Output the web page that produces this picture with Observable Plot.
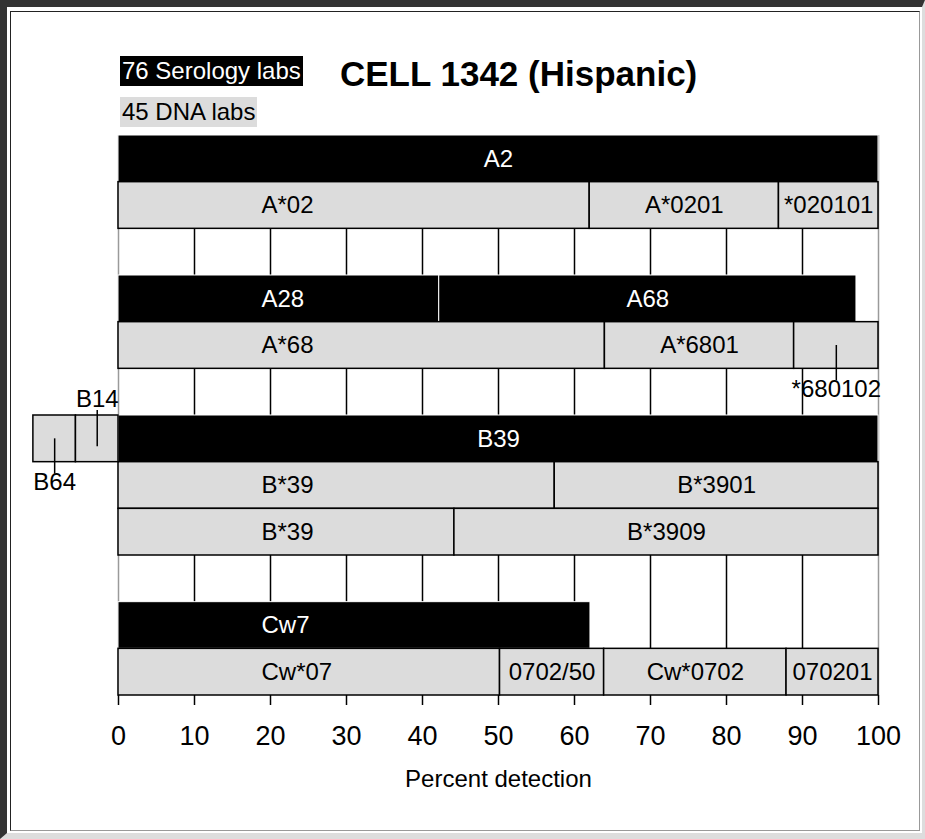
<!DOCTYPE html>
<html>
<head>
<meta charset="utf-8">
<script src="https://cdn.jsdelivr.net/npm/d3@7"></script>
<script src="https://cdn.jsdelivr.net/npm/@observablehq/plot@0.6"></script>
<style>
  html, body { margin: 0; padding: 0; background: #fff; }
  #page { position: relative; width: 925px; height: 839px; overflow: hidden; font-family: "Liberation Sans", Arial, sans-serif; }
  #outer { position: absolute; left: 0; top: 0; width: 925px; height: 839px; box-sizing: border-box;
           border-top: 7px solid #333; border-left: 7px solid #333; border-right: 3px solid #ddd; border-bottom: 6px solid #ddd; }
  #inner { position: absolute; left: 10px; top: 11px; width: 910px; height: 820px; box-sizing: border-box;
           border: 1px solid #222; border-right-color: #999; border-bottom-color: #999; }
  .leg { position: absolute; left: 120px; height: 30px; line-height: 30px; font-size: 24px; padding: 0 2px; white-space: nowrap; }
  #sero { top: 56px; background: #000; color: #fff; }
  #dna { top: 97px; background: #dcdcdc; color: #000; }
  #title { position: absolute; left: 340px; top: 56px; font-size: 35px; line-height: 35px; font-weight: bold; white-space: nowrap; color: #000; }
  #chart { position: absolute; left: 0; top: 130px; }
</style>
</head>
<body>
<div id="page">
  <div id="outer"></div>
  <div id="inner"></div>
  <div class="leg" id="sero">76 Serology labs</div>
  <div class="leg" id="dna">45 DNA labs</div>
  <div id="title">CELL 1342 (Hispanic)</div>
  <div id="chart"></div>
</div>
<script>
// ---- data ----
const rows = ["A2", "A*02", "gap A", "A28/A68", "A*68", "gap AB", "B39", "B*39/B*3901", "B*39/B*3909", "gap BC", "Cw7", "Cw*07"];

// Serology (black bars)
const seroRow   = ["A2", "A28/A68", "A28/A68", "B39", "Cw7"];
const seroFrom  = [0, 0, 42.2, 0, 0];
const seroTo    = [100, 42.2, 97.1, 100, 62.1];
const seroLabel = ["A2", "A28", "A68", "B39", "Cw7"];

// Minor serology assignments shown left of zero
const minorRow     = ["B39", "B39"];
const minorFrom    = [-11.2, -5.6];
const minorTo      = [-5.6, 0];
const minorLabel   = ["B64", "B14"];
const minorCallout = ["below", "above"];

// DNA (grey bars)
const dnaRow = ["A*02", "A*02", "A*02",
                "A*68", "A*68", "A*68",
                "B*39/B*3901", "B*39/B*3901",
                "B*39/B*3909", "B*39/B*3909",
                "Cw*07", "Cw*07", "Cw*07", "Cw*07"];
const dnaFrom = [0, 62, 86.9,  0, 64, 88.9,  0, 57.4,  0, 44.2,  0, 50.2, 63.9, 87.9];
const dnaTo   = [62, 86.9, 100,  64, 88.9, 100,  57.4, 100,  44.2, 100,  50.2, 63.9, 87.9, 100];
const dnaLabel = ["A*02", "A*0201", "*020101",
                  "A*68", "A*6801", "*680102",
                  "B*39", "B*3901",
                  "B*39", "B*3909",
                  "Cw*07", "0702/50", "Cw*0702", "070201"];
const dnaCallout = [null, null, null, null, null, "below", null, null, null, null, null, null, null, null];

const xTicks = [0, 10, 20, 30, 40, 50, 60, 70, 80, 90, 100];
const gridTicks = [10, 20, 30, 40, 50, 60, 70, 80, 90];
const edgeTicks = [0, 100];
const axisTitle = ["Percent detection"];

// ---- build tables ----
const rowIndex = new Map(rows.map((r, i) => [r, i]));
function table(rowArr, from, to, labels, callouts) {
  return labels.map((label, i) => ({
    row: rowIndex.get(rowArr[i]), from: from[i], to: to[i], label,
    callout: callouts ? callouts[i] : null
  }));
}
const sero = table(seroRow, seroFrom, seroTo, seroLabel);
const minor = table(minorRow, minorFrom, minorTo, minorLabel, minorCallout);
const dna = table(dnaRow, dnaFrom, dnaTo, dnaLabel, dnaCallout);
const grey = dna.concat(minor);

const mid = d => (d.from + d.to) / 2;
const rowMid = d => d.row + 0.5;
const rowTop = d => d.row;
const rowBot = d => d.row + 1;
const leftAligned = d => !d.callout && d.from === 0 && d.to < 100;
const centred = d => !d.callout && !(d.from === 0 && d.to < 100);
const below = grey.filter(d => d.callout === "below");
const above = grey.filter(d => d.callout === "above");

const FS = 24;

const chart = Plot.plot({
  width: 925,
  height: 700,
  marginLeft: 118,
  marginRight: 47,
  marginTop: 5,
  marginBottom: 135,
  style: { fontFamily: "'Liberation Sans', Arial, sans-serif", fontSize: "24px", background: "transparent", overflow: "visible", color: "#000" },
  x: { domain: [0, 100] },
  y: { domain: [0, rows.length], reverse: true, axis: null },
  marks: [
    Plot.ruleX(gridTicks, { y1: 0, y2: rows.length, stroke: "#000", strokeWidth: 1.5 }),
    Plot.ruleX(edgeTicks, { y1: 0, y2: rows.length, stroke: "#9a9a9a", strokeWidth: 1.5 }),
    Plot.rect(sero, { x1: "from", x2: "to", y1: rowTop, y2: rowBot, fill: "#000", stroke: "#fff", strokeWidth: 1 }),
    Plot.rect(grey, { x1: "from", x2: "to", y1: rowTop, y2: rowBot, fill: "#dcdcdc", stroke: "#000", strokeWidth: 1.5 }),
    // labels inside bars
    Plot.text(sero.filter(centred), { x: mid, y: rowMid, text: "label", fill: "#fff", fontSize: FS }),
    Plot.text(sero.filter(leftAligned), { x: "from", y: rowMid, text: "label", fill: "#fff", fontSize: FS, textAnchor: "start", dx: 143 }),
    Plot.text(grey.filter(centred), { x: mid, y: rowMid, text: "label", fill: "#000", fontSize: FS }),
    Plot.text(grey.filter(leftAligned), { x: "from", y: rowMid, text: "label", fill: "#000", fontSize: FS, textAnchor: "start", dx: 143 }),
    // callouts
    Plot.ruleX(below, { x: mid, y1: rowMid, y2: rowBot, insetBottom: -12, stroke: "#000", strokeWidth: 1.5 }),
    Plot.text(below, { x: mid, y: rowBot, dy: 20, text: "label", fill: "#000", fontSize: FS }),
    Plot.ruleX(above, { x: mid, y1: rowTop, y2: rowMid, insetTop: -5, insetBottom: -8, stroke: "#000", strokeWidth: 1.5 }),
    Plot.text(above, { x: mid, y: rowTop, dy: -16, text: "label", fill: "#000", fontSize: FS }),
    // axis
    Plot.axisX({ ticks: xTicks, tickSize: 10, tickPadding: 20, fontSize: 27, stroke: "#000", strokeWidth: 1.5, fill: "#000", label: null, tickFormat: d => d }),
    Plot.text(axisTitle, { text: d => d, frameAnchor: "bottom", dy: 91, fontSize: FS, fill: "#000" })
  ]
});
document.getElementById("chart").appendChild(chart);
</script>
</body>
</html>
